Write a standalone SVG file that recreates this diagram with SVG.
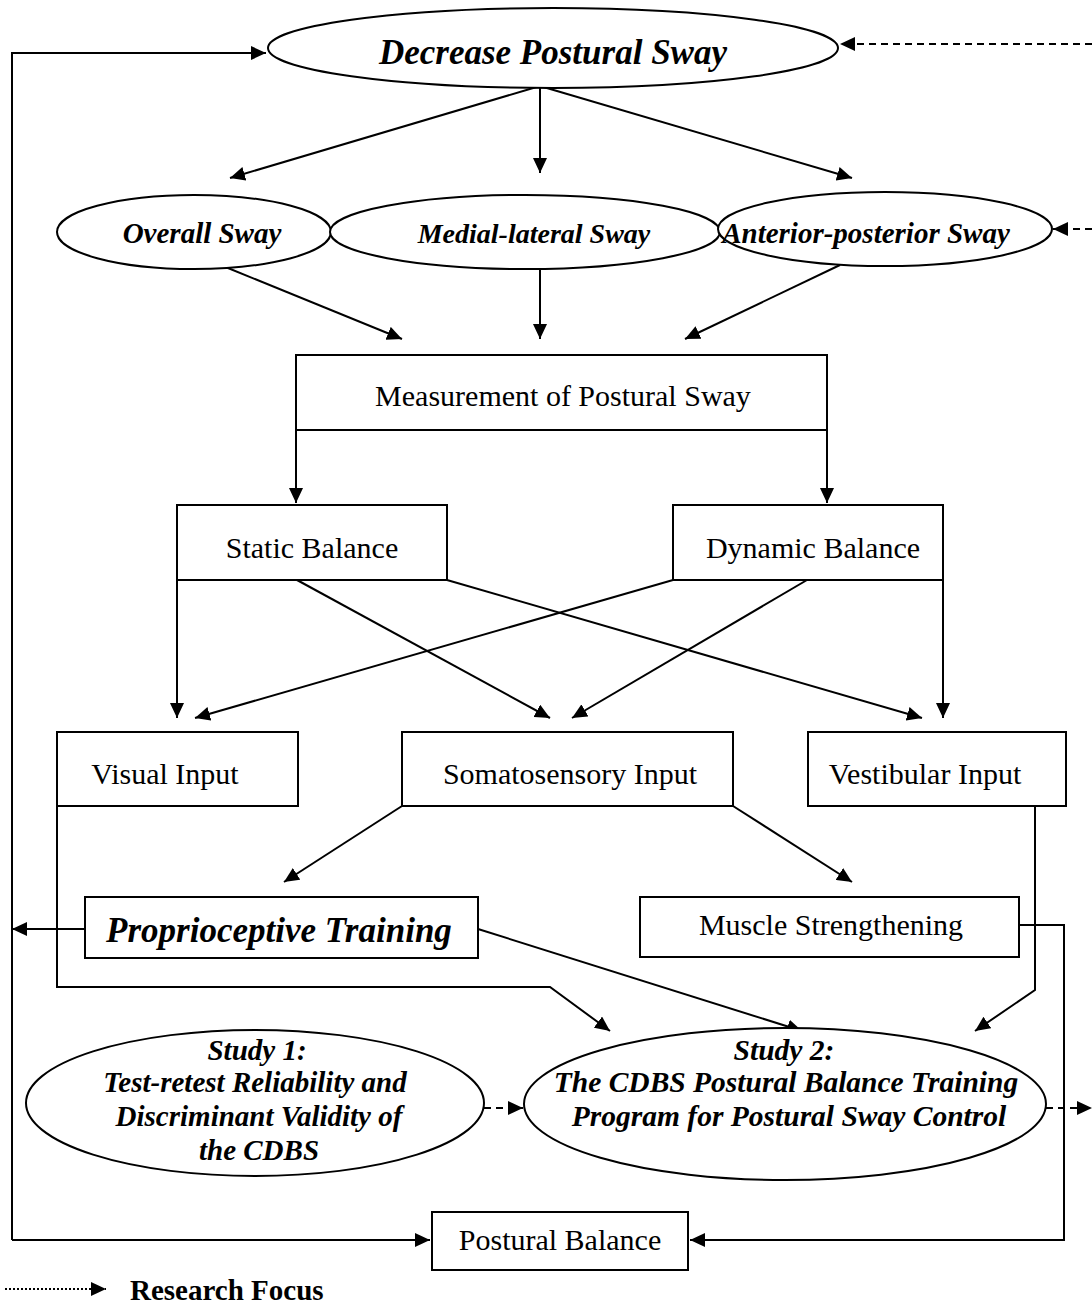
<svg xmlns="http://www.w3.org/2000/svg" width="1092" height="1305" viewBox="0 0 1092 1305">
<style>
.shape{fill:#fff;stroke:#000;stroke-width:2}
.ln{fill:none;stroke:#000;stroke-width:2}
.dash{stroke-dasharray:7 5}
.dot{stroke-dasharray:2 2}
.t{font-family:"Liberation Serif","Times New Roman",serif;fill:#000;text-anchor:middle;font-size:30px}
.bi{font-weight:bold;font-style:italic}
.b{font-weight:bold}
</style>
<defs>
<marker id="ah" markerUnits="userSpaceOnUse" markerWidth="16" markerHeight="14" refX="15" refY="7" orient="auto">
<path d="M0,0 L15,7 L0,14 z" fill="#000"/>
</marker>
</defs>
<rect width="1092" height="1305" fill="#fff"/>
<g id="connectors">
<path class="ln" d="M12,1240 L12,53 L266,53" marker-end="url(#ah)"/>
<path class="ln" d="M12,1240 L430,1240" marker-end="url(#ah)"/>
<path class="ln dash" d="M1092,44 L840,44" marker-end="url(#ah)"/>
<path class="ln dash" d="M1092,229 L1053,229" marker-end="url(#ah)"/>
<path class="ln" d="M540,86 L230,178" marker-end="url(#ah)"/>
<path class="ln" d="M540,86 L540,173" marker-end="url(#ah)"/>
<path class="ln" d="M540,86 L852,178" marker-end="url(#ah)"/>
<path class="ln" d="M223,266 L402,339" marker-end="url(#ah)"/>
<path class="ln" d="M540,269 L540,339" marker-end="url(#ah)"/>
<path class="ln" d="M840,265 L685,339" marker-end="url(#ah)"/>
<path class="ln" d="M296,430 L296,503" marker-end="url(#ah)"/>
<path class="ln" d="M827,430 L827,503" marker-end="url(#ah)"/>
<path class="ln" d="M177,580 L177,718" marker-end="url(#ah)"/>
<path class="ln" d="M297,580 L550,718" marker-end="url(#ah)"/>
<path class="ln" d="M447,580 L922,718" marker-end="url(#ah)"/>
<path class="ln" d="M943,580 L943,718" marker-end="url(#ah)"/>
<path class="ln" d="M673,580 L195,718" marker-end="url(#ah)"/>
<path class="ln" d="M807,580 L572,718" marker-end="url(#ah)"/>
<path class="ln" d="M402,806 L284,882" marker-end="url(#ah)"/>
<path class="ln" d="M733,806 L852,882" marker-end="url(#ah)"/>
<path class="ln" d="M85,929 L12,929" marker-end="url(#ah)"/>
<path class="ln" d="M57,806 L57,987 L550,987 L610,1031" marker-end="url(#ah)"/>
<path class="ln" d="M478,929 L802,1031" marker-end="url(#ah)"/>
<path class="ln" d="M1035,806 L1035,990 L975,1031" marker-end="url(#ah)"/>
<path class="ln" d="M1019,925 L1064,925 L1064,1240 L690,1240" marker-end="url(#ah)"/>
<path class="ln dash" d="M484,1108 L523,1108" marker-end="url(#ah)"/>
<path class="ln dash" d="M1046,1108 L1092,1108" marker-end="url(#ah)"/>
</g>
<g id="n-decrease"><ellipse class="shape" cx="553" cy="48" rx="285" ry="40"/><text class="t bi" x="553" y="64" style="font-size:35px">Decrease Postural Sway</text></g>
<g id="n-overall"><ellipse class="shape" cx="194" cy="232" rx="137" ry="37"/><text class="t bi" x="202" y="243" style="font-size:29px">Overall Sway</text></g>
<g id="n-medial"><ellipse class="shape" cx="525" cy="232" rx="195" ry="37"/><text class="t bi" x="534" y="243" style="font-size:28px">Medial-lateral Sway</text></g>
<g id="n-anterior"><ellipse class="shape" cx="885" cy="229" rx="167" ry="37"/><text class="t bi" x="866" y="243" style="font-size:29px">Anterior-posterior Sway</text></g>
<g id="n-measurement"><rect class="shape" x="296" y="355" width="531" height="75"/><text class="t" x="563" y="406">Measurement of Postural Sway</text></g>
<g id="n-static"><rect class="shape" x="177" y="505" width="270" height="75"/><text class="t" x="312" y="558">Static Balance</text></g>
<g id="n-dynamic"><rect class="shape" x="673" y="505" width="270" height="75"/><text class="t" x="813" y="558">Dynamic Balance</text></g>
<g id="n-visual"><rect class="shape" x="57" y="732" width="241" height="74"/><text class="t" x="165" y="784">Visual Input</text></g>
<g id="n-somato"><rect class="shape" x="402" y="732" width="331" height="74"/><text class="t" x="570" y="784">Somatosensory Input</text></g>
<g id="n-vestibular"><rect class="shape" x="808" y="732" width="258" height="74"/><text class="t" x="925" y="784">Vestibular Input</text></g>
<g id="n-proprio"><rect class="shape" x="85" y="897" width="393" height="61"/><text class="t bi" x="279" y="942" style="font-size:35px">Proprioceptive Training</text></g>
<g id="n-muscle"><rect class="shape" x="640" y="897" width="379" height="60"/><text class="t" x="831" y="935">Muscle Strengthening</text></g>
<g id="n-study1"><ellipse class="shape" cx="255" cy="1103" rx="229" ry="73"/>
<text class="t bi" x="257" style="font-size:29px"><tspan x="257" y="1060">Study 1:</tspan><tspan x="255" y="1092">Test-retest Reliability and</tspan><tspan x="259" y="1126">Discriminant Validity of</tspan><tspan x="259" y="1160">the CDBS</tspan></text></g>
<g id="n-study2"><ellipse class="shape" cx="785" cy="1104" rx="261" ry="76"/>
<text class="t bi" x="786" style="font-size:29.5px"><tspan x="784" y="1060">Study 2:</tspan><tspan x="786" y="1092">The CDBS Postural Balance Training</tspan><tspan x="789" y="1126">Program for Postural Sway Control</tspan></text></g>
<g id="n-postural"><rect class="shape" x="432" y="1212" width="256" height="58"/><text class="t" x="560" y="1250">Postural Balance</text></g>
<g id="legend">
<path class="ln dot" d="M5,1289 L106,1289" marker-end="url(#ah)"/>
<text class="t b" x="130" y="1300" style="text-anchor:start;font-size:29px">Research Focus</text>
</g>
</svg>
